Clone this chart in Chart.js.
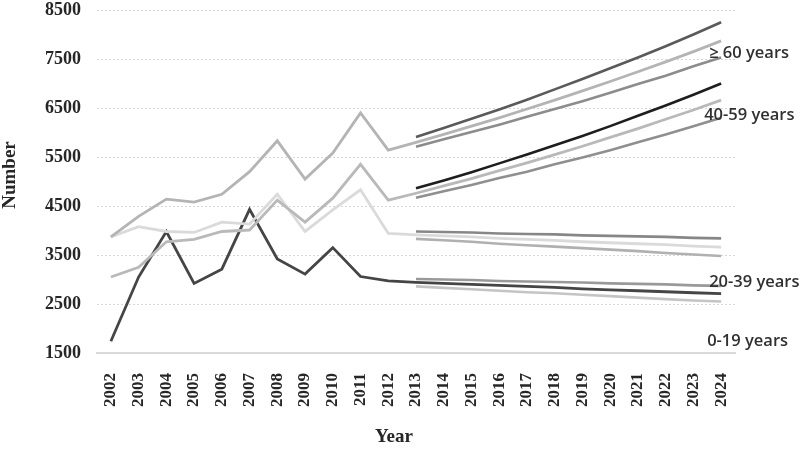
<!DOCTYPE html>
<html>
<head>
<meta charset="utf-8">
<title>Population by age group</title>
<script src="https://cdn.jsdelivr.net/npm/chart.js@4.4.1/dist/chart.umd.min.js"></script>
<style>
    html, body { margin: 0; padding: 0; background: #fff; }
    #wrap { width: 800px; height: 449px; }
</style>
</head>
<body>
<div id="wrap"><canvas id="myChart" width="800" height="449"></canvas></div>
<script>
const years = ['2002', '2003', '2004', '2005', '2006', '2007', '2008', '2009', '2010', '2011', '2012',
    '2013', '2014', '2015', '2016', '2017', '2018', '2019', '2020', '2021', '2022', '2023', '2024'];

// observed 2002-2012
const seniorHist = [3870, 4290, 4640, 4580, 4740, 5200, 5830, 5050, 5580, 6400, 5640];
const middleHist = [3050, 3250, 3770, 3820, 3980, 4010, 4620, 4170, 4660, 5350, 4620];
const youngHist = [3870, 4080, 3980, 3960, 4170, 4130, 4740, 3980, 4420, 4830, 3940];
const childHist = [1740, 3050, 3980, 2920, 3210, 4430, 3420, 3110, 3650, 3060, 2970];

// projections 2013-2024 (high / mid / low)
const seniorHigh = [5910, 6090, 6280, 6470, 6670, 6880, 7090, 7310, 7530, 7760, 8000, 8250];
const seniorMid = [5800, 5960, 6130, 6300, 6480, 6660, 6850, 7040, 7240, 7440, 7650, 7870];
const seniorLow = [5710, 5860, 6010, 6160, 6320, 6480, 6640, 6810, 6990, 7160, 7350, 7530];

const middleHigh = [4860, 5020, 5190, 5370, 5550, 5740, 5930, 6130, 6340, 6550, 6770, 7000];
const middleMid = [4760, 4910, 5060, 5220, 5380, 5550, 5720, 5900, 6080, 6270, 6460, 6660];
const middleLow = [4670, 4800, 4930, 5070, 5200, 5350, 5490, 5640, 5800, 5960, 6130, 6300];

const youngHigh = [3980, 3970, 3960, 3940, 3930, 3920, 3900, 3890, 3880, 3870, 3850, 3840];
const youngMid = [3910, 3890, 3870, 3840, 3820, 3800, 3770, 3750, 3730, 3710, 3680, 3660];
const youngLow = [3830, 3800, 3770, 3730, 3700, 3670, 3640, 3610, 3580, 3540, 3510, 3480];

const childHigh = [3010, 3000, 2990, 2970, 2960, 2950, 2940, 2920, 2910, 2900, 2880, 2870];
const childMid = [2940, 2920, 2900, 2880, 2860, 2840, 2810, 2790, 2770, 2750, 2730, 2710];
const childLow = [2860, 2830, 2800, 2770, 2740, 2720, 2690, 2660, 2630, 2600, 2570, 2550];

const yTicks = [1500, 2500, 3500, 4500, 5500, 6500, 7500, 8500];

const groupNames = ['\u2265 60 years', '40-59 years', '20-39 years', '0-19 years'];

const serif = 'Liberation Serif, Times New Roman, serif';
const blank = seniorHist.map(() => null);

function projection(values) {
    return blank.concat(values);
}

function line(data, color, width = 2.6) {
    return {
        data: data,
        borderColor: color,
        backgroundColor: color,
        borderWidth: width,
        pointRadius: 0,
        tension: 0,
        fill: false,
        spanGaps: false
    };
}

const groupLabels = {
    id: 'groupLabels',
    afterDatasetsDraw(chart, args, options) {
        const { ctx, chartArea, scales: { x, y } } = chart;
        const lastX = x.getPixelForValue(years.length - 1);
        ctx.save();
        ctx.font = '600 16.5px "Open Sans"';
        ctx.fillStyle = '#303030';
        ctx.textAlign = 'left';
        ctx.textBaseline = 'middle';
        options.items.forEach((item, i) => {
            ctx.fillText(groupNames[i], lastX + item.dx, y.getPixelForValue(item.at));
        });

        // axis titles
        ctx.font = 'bold 19px ' + serif;
        ctx.fillStyle = '#262626';
        ctx.textAlign = 'center';
        ctx.fillText('Year', (chartArea.left + chartArea.right) / 2 - 22, 437);
        ctx.translate(10, 175);
        ctx.rotate(-Math.PI / 2);
        ctx.fillText('Number', 0, 0);
        ctx.restore();
    }
};

const ctx = document.getElementById('myChart').getContext('2d');

const myChart = new Chart(ctx, {
    type: 'line',
    data: {
        labels: years,
        datasets: [
            line(projection(seniorHigh), '#5a5a5a'),
            line(seniorHist.concat(seniorMid), '#b4b4b4', 2.8),
            line(projection(seniorLow), '#8c8c8c'),
            line(projection(middleHigh), '#1e1e1e'),
            line(middleHist.concat(middleMid), '#b9b9b9', 2.8),
            line(projection(middleLow), '#8f8f8f'),
            line(projection(youngHigh), '#878787'),
            line(youngHist.concat(youngMid), '#dadada', 2.8),
            line(projection(youngLow), '#b0b0b0'),
            line(projection(childHigh), '#999999'),
            line(projection(childLow), '#c4c4c4'),
            line(childHist.concat(childMid), '#454545', 2.8)
        ]
    },
    options: {
        responsive: false,
        animation: false,
        devicePixelRatio: 1,
        layout: {
            padding: { top: 0, right: 65, bottom: 0, left: 0 }
        },
        plugins: {
            legend: { display: false },
            tooltip: { enabled: false },
            groupLabels: {
                items: [
                    { at: 7620, dx: -12 },
                    { at: 6360, dx: -17 },
                    { at: 2950, dx: -12 },
                    { at: 1745, dx: -14 }
                ]
            }
        },
        scales: {
            x: {
                offset: true,
                grid: { display: false },
                border: { display: true, color: '#d9d9d9', width: 2 },
                ticks: {
                    autoSkip: false,
                    minRotation: 90,
                    maxRotation: 90,
                    padding: 12,
                    color: '#262626',
                    font: { family: serif, size: 17, weight: 'bold' }
                },
                afterFit: (scale) => { scale.height = 96; }
            },
            y: {
                min: 1500,
                max: 8500,
                afterBuildTicks: (scale) => {
                    scale.ticks = yTicks.map(v => ({ value: v }));
                },
                grid: {
                    color: '#d6d6d6',
                    lineWidth: 1,
                    drawTicks: false
                },
                border: { display: false, dash: [2, 2] },
                ticks: {
                    padding: 16,
                    color: '#262626',
                    font: { family: serif, size: 18, weight: 'bold' },
                    callback: (value) => String(value)
                },
                afterFit: (scale) => {
                    scale.width = 97;
                    scale.paddingTop = 10;
                    scale.paddingBottom = 0;
                }
            }
        }
    },
    plugins: [groupLabels]
});
</script>
</body>
</html>
